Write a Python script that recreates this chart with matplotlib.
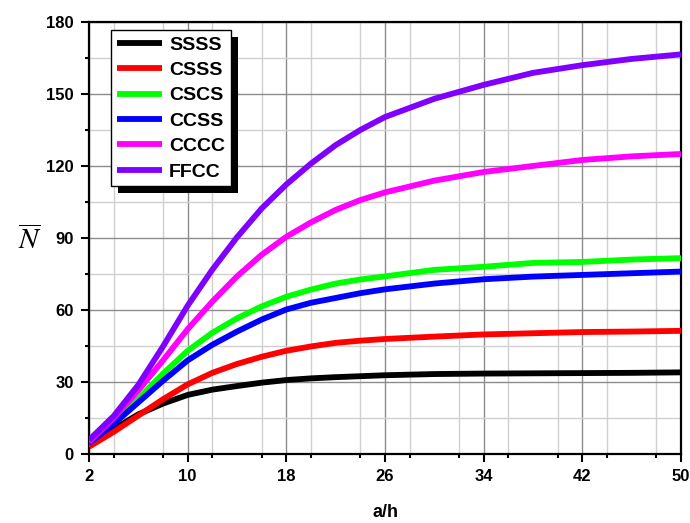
import matplotlib.pyplot as plt
from matplotlib.patches import Rectangle
from matplotlib.ticker import MultipleLocator

plt.rcParams['font.family'] = ['Liberation Sans', 'DejaVu Sans']
plt.rcParams['mathtext.fontset'] = 'stix'

a_h = [2, 4, 6, 8, 10, 12, 14, 16, 18, 20, 22, 24, 26, 30, 34, 38, 42, 46, 50]

ssss = [3.3, 10.4, 16.5, 21, 24.6, 26.8, 28.3, 29.7, 30.8, 31.5, 32, 32.4, 32.8, 33.3, 33.5, 33.6, 33.7, 33.8, 34]
csss = [3, 9.2, 16, 22.8, 29, 33.8, 37.5, 40.5, 43, 44.8, 46.3, 47.2, 47.9, 48.9, 49.8, 50.3, 50.8, 51, 51.3]
cscs = [4.5, 13.5, 23, 33.5, 43, 50.5, 56.5, 61.5, 65.5, 68.5, 71, 72.7, 74, 76.7, 78, 79.6, 80, 81, 81.6]
ccss = [4.5, 12.5, 21.5, 30.5, 39, 45.5, 51, 56, 60.2, 63, 65, 67, 68.6, 71, 72.8, 73.9, 74.6, 75.3, 76]
cccc = [5, 15, 26.5, 39, 52, 63.5, 74, 83, 90.5, 96.5, 101.7, 105.8, 109, 113.9, 117.5, 120, 122.5, 124, 125]
ffcc = [5.8, 15.8, 28.8, 44.8, 61.8, 76.8, 90.3, 102.3, 112.3, 121, 128.7, 135, 140.4, 148, 153.8, 158.8, 162, 164.6, 166.5]

series = [('SSSS', ssss, '#000000'), ('CSSS', csss, '#ff0000'),
          ('CSCS', cscs, '#00ff00'), ('CCSS', ccss, '#0000ff'),
          ('CCCC', cccc, '#ff00ff'), ('FFCC', ffcc, '#8000ff')]

fig = plt.figure(figsize=(6.9, 5.23), dpi=100)
ax = fig.add_axes([0.129, 0.132, 0.858, 0.826])

for name, vals, col in series:
    ax.plot(a_h, vals, color=col, lw=4.2, label=name, solid_capstyle='butt',
            solid_joinstyle='round', zorder=3)

ax.set_xlim(2, 50)
ax.set_ylim(0, 180)
ax.xaxis.set_minor_locator(MultipleLocator(4))
ax.yaxis.set_major_locator(MultipleLocator(30))
ax.yaxis.set_minor_locator(MultipleLocator(15))
ax.set_xticks([2, 10, 18, 26, 34, 42, 50])
ax.grid(which='major', color='#8c8c8c', lw=1, zorder=0)
ax.grid(which='minor', color='#d0d0d0', lw=1, zorder=0)
ax.set_axisbelow(True)

ax.tick_params(which='both', direction='out', top=False, right=False, width=1.5)
ax.tick_params(which='major', length=6, pad=5, labelsize=12)
ax.tick_params(which='minor', length=3)
for lab in ax.get_xticklabels() + ax.get_yticklabels():
    lab.set_fontweight('bold')
for sp in ax.spines.values():
    sp.set_linewidth(1.6)

ax.set_xlabel('a/h', fontsize=13, fontweight='bold', labelpad=14)
ax.set_ylabel(r'$\overline{N}$', fontsize=21, rotation=0, labelpad=0)
ax.yaxis.set_label_coords(-0.1, 0.46)

leg = ax.legend(loc='upper left', bbox_to_anchor=(0.037, 0.981), borderaxespad=0,
                prop={'weight': 'bold', 'size': 14}, handlelength=2.35,
                handletextpad=0.35, labelspacing=0.4, borderpad=0.3,
                fancybox=False, framealpha=1, edgecolor='black')
leg.get_frame().set_linewidth(1.0)
leg.set_zorder(10)

# drop shadow behind the legend box
fig.canvas.draw()
bb = leg.get_window_extent()
shadow = Rectangle((bb.x0 + 7, bb.y0 - 7), bb.width, bb.height, transform=None,
                   facecolor='black', edgecolor='none', zorder=9, clip_on=False)
ax.add_patch(shadow)

fig.savefig('out.png', dpi=100)
